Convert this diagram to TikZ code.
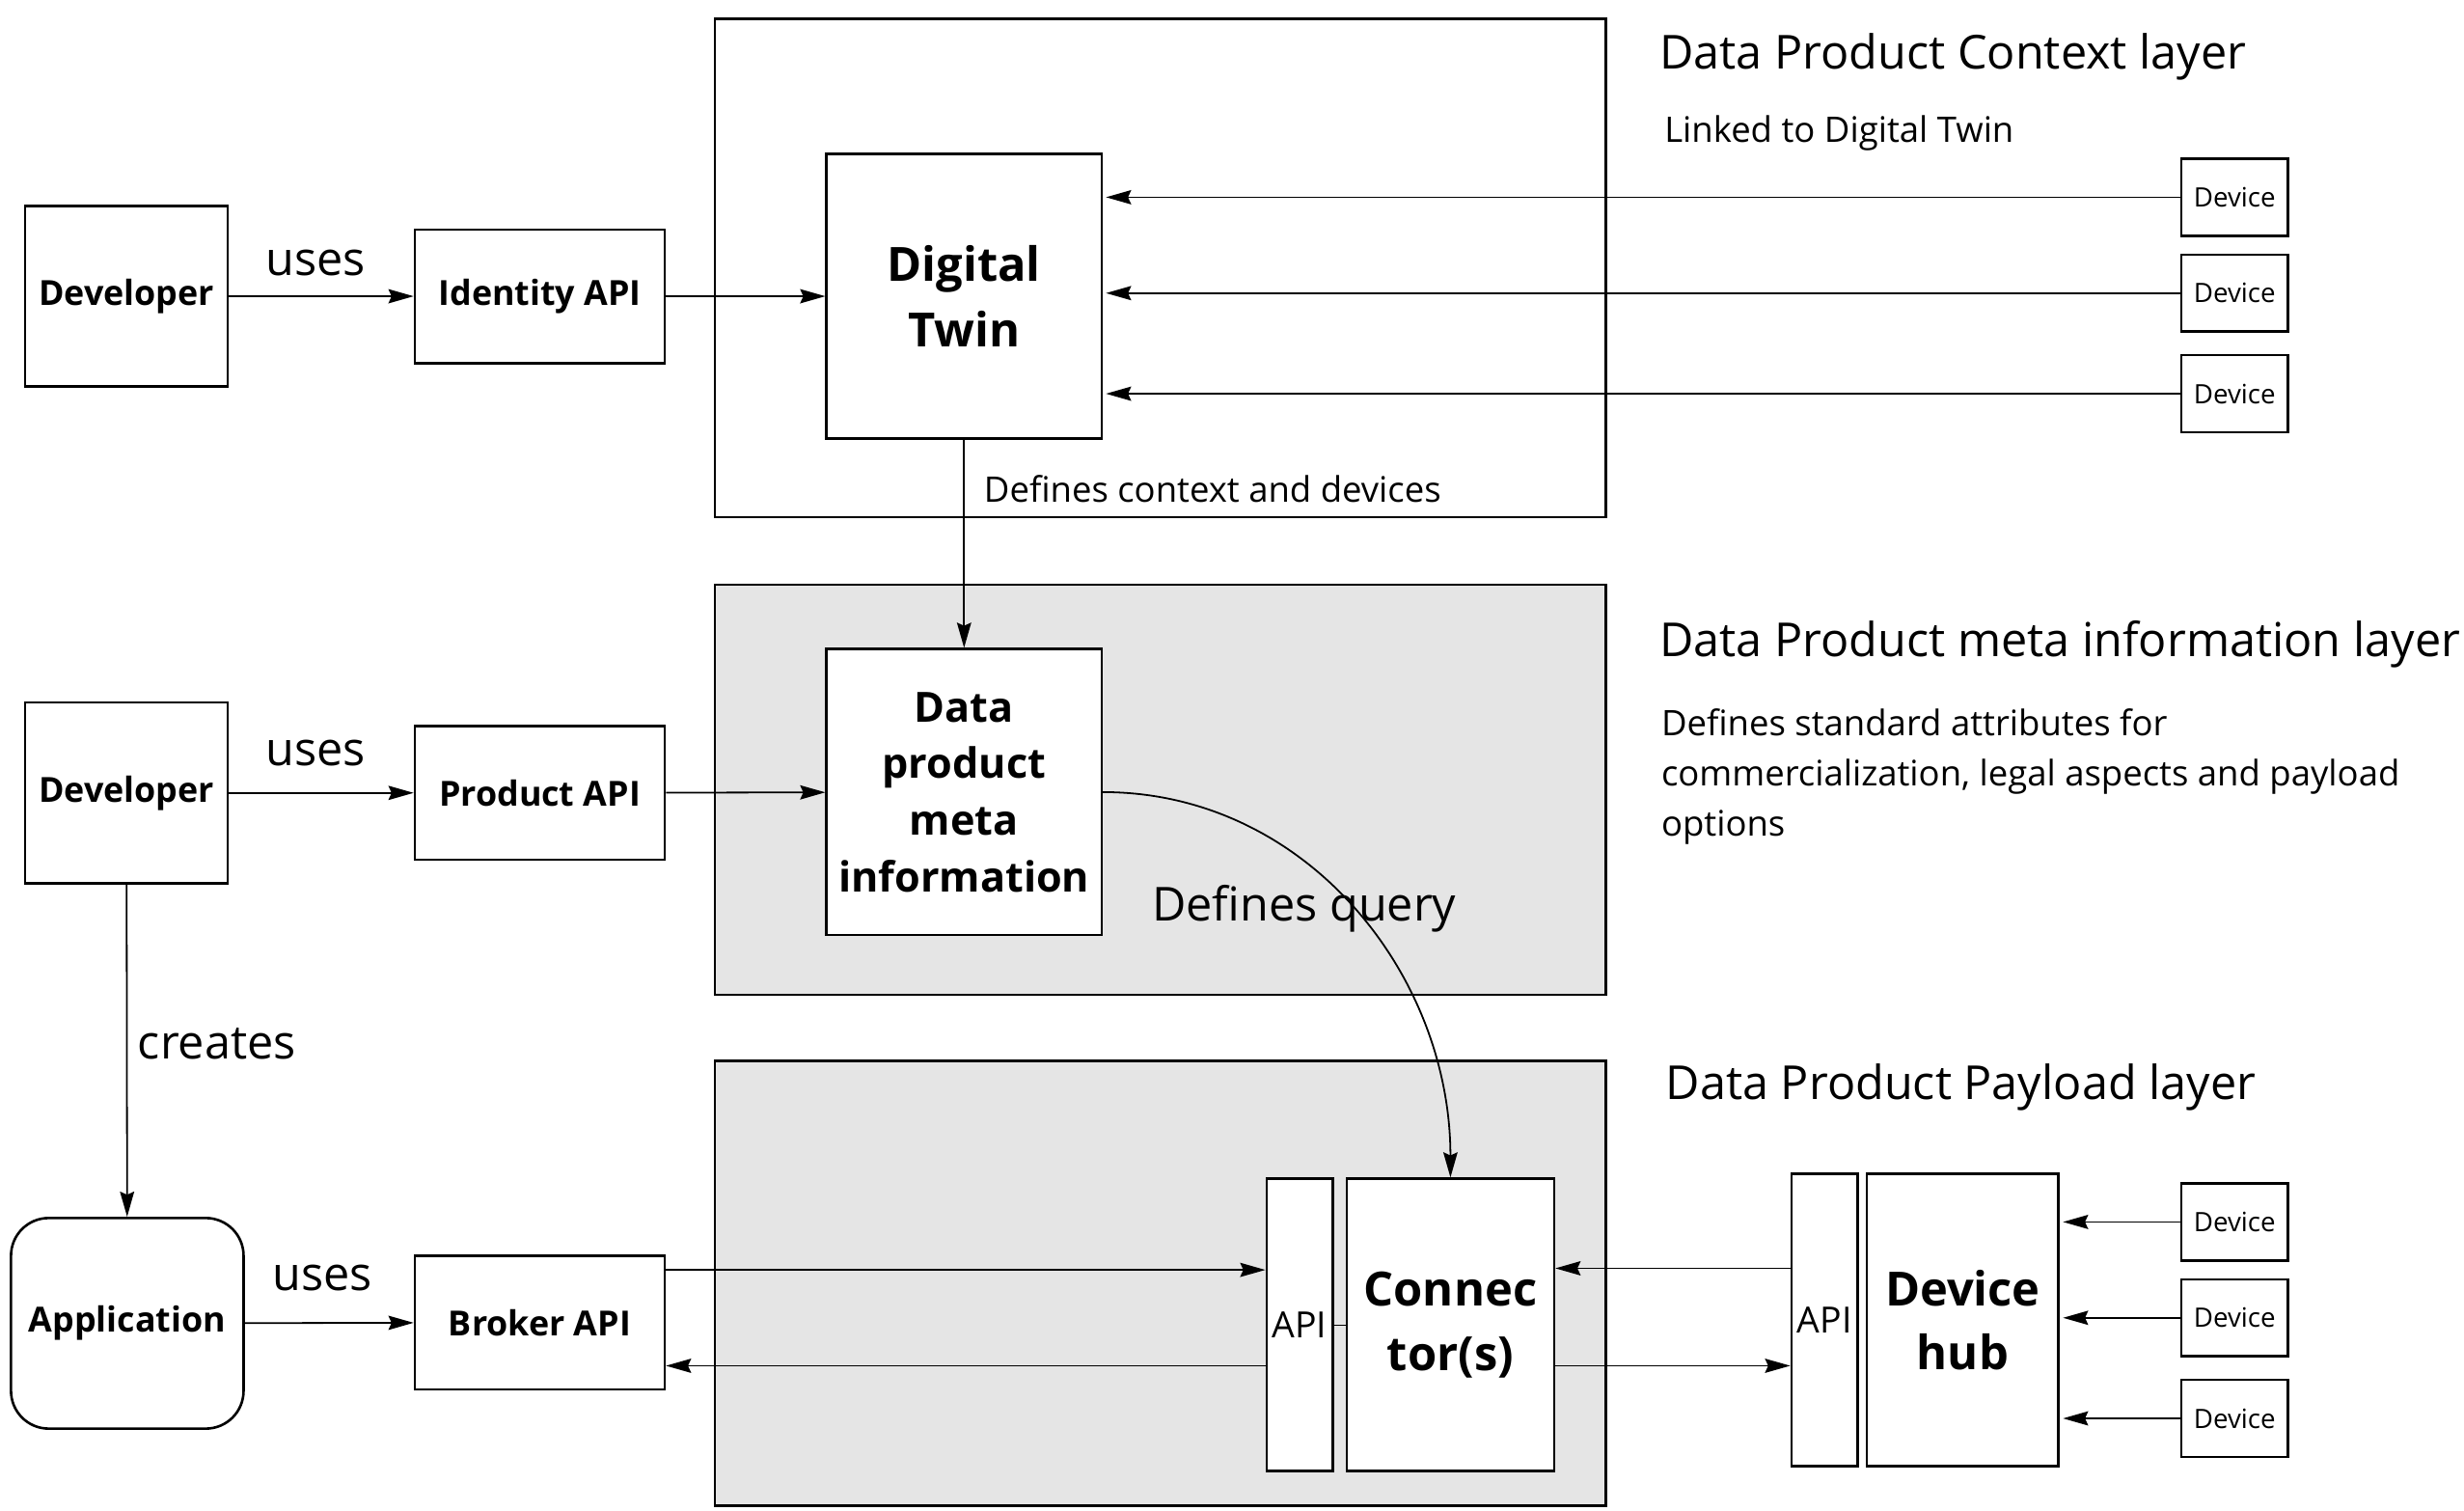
\documentclass[tikz,border=0pt]{standalone}
\usepackage{fontspec}
\setmainfont{Open Sans}
\usepackage{tikz}
\usetikzlibrary{arrows.meta}
\newcommand{\fsz}[2]{\fontsize{#1pt}{#2pt}\selectfont}

\tikzset{
  box/.style={draw, line width=1.6pt, fill=white, align=center, inner sep=2pt, font=\bfseries\fsz{22}{27}},
  layer/.style={draw, line width=1.6pt, fill=gray!20, inner sep=0pt},
  devbox/.style={draw, line width=1.6pt, fill=white, inner sep=2pt, minimum width=68, minimum height=49, font=\fsz{17}{20}},
  arr/.style={line width=1.1pt, -{Stealth[length=16pt,width=9pt,inset=2pt]}},
  lbl/.style={inner sep=0pt, font=\fsz{29.8}{35}},
  note/.style={inner sep=0pt, anchor=west, align=left, font=\fsz{22.4}{32}}
}

\begin{document}
\begin{tikzpicture}[x=1pt,y=-1pt]
\useasboundingbox (0,0) rectangle (1568,961);

\node[layer, fill=white, minimum width=567, minimum height=317] (ctx) at (738.5,170.5) {};
\node[layer, minimum width=567, minimum height=261] (metalayer) at (738.5,502.5) {};
\node[layer, minimum width=567, minimum height=283] (payload) at (738.5,816.5) {};

\node[lbl, anchor=west] (ctxtitle) at (1056,36) {Data Product Context layer};
\node[note] (ctxnote) at (1059,85) {Linked to Digital Twin};
\node[lbl, anchor=west] (metatitle) at (1056,410) {Data Product meta information layer};
\node[note] (metanote) at (1057,494) {Defines standard attributes for\\commercialization, legal aspects and payload\\options};
\node[lbl, anchor=west] (paytitle) at (1060,692) {Data Product Payload layer};

\node[box, minimum width=129, minimum height=115] (dev1) at (80.5,188.5) {Developer};
\node[box, minimum width=129, minimum height=115] (dev2) at (80.5,504.5) {Developer};
\node[box, rounded corners=24, minimum width=148, minimum height=134] (app) at (81,842) {Application};
\node[box, minimum width=159, minimum height=85] (idapi) at (343.5,188.5) {Identity API};
\node[box, minimum width=159, minimum height=85] (prodapi) at (343.5,504.5) {Product API};
\node[box, minimum width=159, minimum height=85] (brokerapi) at (343.5,841.5) {Broker API};
\node[box, font=\bfseries\fsz{30}{42}, minimum width=175, minimum height=181] (twin) at (613.5,188.5) {Digital\\Twin};
\node[box, font=\bfseries\fsz{26.5}{36}, minimum width=175, minimum height=182] (meta) at (613.5,504) {Data\\product\\meta\\information};
\node[box, font=\fsz{23}{28}, minimum width=42, minimum height=186] (apil) at (827,843) {API};
\node[box, font=\bfseries\fsz{30}{41}, minimum width=132, minimum height=186] (conn) at (923,843) {Connec\\tor(s)};
\node[box, font=\fsz{23}{28}, minimum width=42, minimum height=186] (apir) at (1161,840) {API};
\node[box, font=\bfseries\fsz{30}{40}, minimum width=122, minimum height=186] (hub) at (1249,840) {Device\\hub};

\node[devbox] (d1) at (1422,125.5) {Device};
\node[devbox] (d2) at (1422,186.5) {Device};
\node[devbox] (d3) at (1422,250.5) {Device};
\node[devbox] (d4) at (1422,777.5) {Device};
\node[devbox] (d5) at (1422,838.5) {Device};
\node[devbox] (d6) at (1422,902.5) {Device};

\node[lbl] (uses1) at (201,167) {uses};
\node[lbl] (uses2) at (201,479) {uses};
\node[lbl] (uses3) at (205,813) {uses};
\node[lbl] (creates) at (138,664) {creates};
\node[lbl, anchor=west] (query) at (733,578) {Defines query};
\node[note] (ctxdef) at (626,311) {Defines context and devices};

\draw[arr] (dev1) -- (idapi);
\draw[arr] (idapi) -- (twin);
\foreach \d in {d1,d2,d3}
  \draw[arr, shorten >=2pt] (\d) -- (\d -| twin.east);
\draw[arr] (twin) -- (meta);
\draw[arr] (dev2) -- (prodapi);
\draw[arr] (prodapi) -- (meta);
\draw[arr] (meta.east) to[out=0, in=90] (conn.north);
\draw[arr] (dev2) -- (app);
\draw[arr] (app) -- (brokerapi);

\coordinate (bout) at ([yshift=33.5pt]brokerapi.east);
\coordinate (bback) at ([yshift=-26pt]apil.west);
\coordinate (hin) at ([yshift=33pt]apir.west);
\coordinate (hout) at ([yshift=-26pt]conn.east);
\draw[arr] (bout) -- (bout -| apil.west);
\draw[arr] (bback) -- (bback -| brokerapi.east);
\draw[arr] (hin) -- (hin -| conn.east);
\draw[arr] (hout) -- (hout -| apir.west);
\draw[line width=0.6pt] (apil) -- (conn);
\foreach \d in {d4,d5,d6}
  \draw[arr, shorten >=2pt] (\d) -- (\d -| hub.east);
\end{tikzpicture}
\end{document}
